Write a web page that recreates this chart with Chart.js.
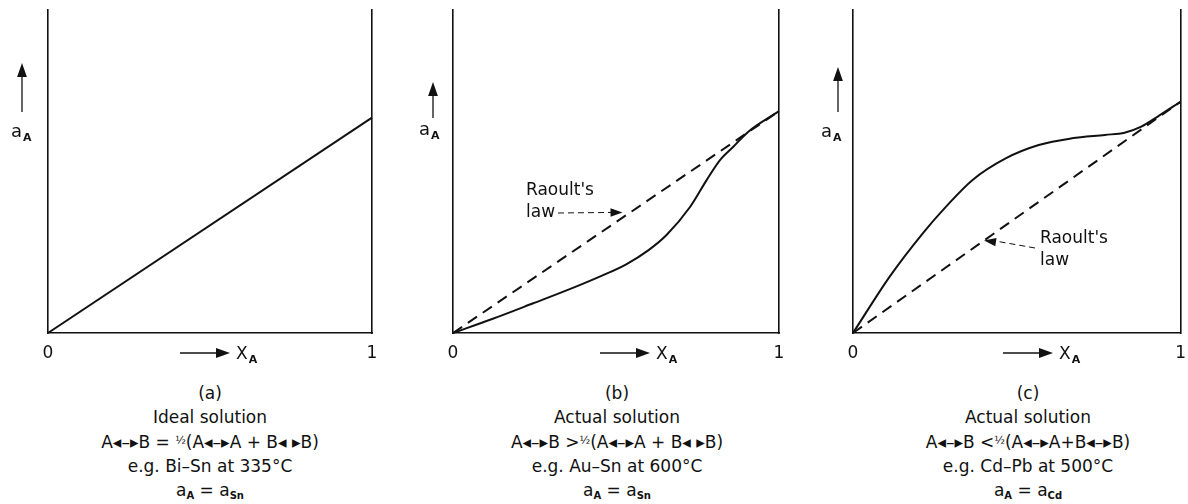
<!DOCTYPE html>
<html lang="en">
<head>
<meta charset="UTF-8">
<title>Activity vs mole fraction</title>
<script src="https://cdn.jsdelivr.net/npm/chart.js"></script>
<style>
    body {
        margin: 0;
        background: #fff;
        font-family: "DejaVu Sans", sans-serif;
        color: #111;
    }
    .wrap {
        position: relative;
        width: 1188px;
        height: 504px;
        overflow: hidden;
    }
    .panel {
        position: absolute;
        top: 0;
        width: 396px;
        height: 372px;
    }
    .caption {
        position: absolute;
        top: 381px;
        width: 396px;
        text-align: center;
        font-size: 17px;
        line-height: 24px;
    }
    sub { font-size: 10px; vertical-align: -3px; font-weight: bold; }
    .half { font-size: 11px; vertical-align: 4px; }
</style>
</head>
<body>
<div class="wrap">
    <div class="panel" style="left:0"><canvas id="chartA"></canvas></div>
    <div class="panel" style="left:400px"><canvas id="chartB"></canvas></div>
    <div class="panel" style="left:792px"><canvas id="chartC"></canvas></div>

    <div class="caption" style="left:12px">
        (a)<br>Ideal solution<br>
        A◂–▸B = <span class="half">½</span>(A◂–▸A + B◂ ▸B)<br>
        e.g. Bi–Sn at 335°C<br>
        a<sub>A</sub> = a<sub>Sn</sub>
    </div>
    <div class="caption" style="left:419px">
        (b)<br>Actual solution<br>
        A◂–▸B &gt;<span class="half">½</span>(A◂–▸A + B◂ ▸B)<br>
        e.g. Au–Sn at 600°C<br>
        a<sub>A</sub> = a<sub>Sn</sub>
    </div>
    <div class="caption" style="left:830px">
        (c)<br>Actual solution<br>
        A◂–▸B &lt;<span class="half">½</span>(A◂–▸A+B◂–▸B)<br>
        e.g. Cd–Pb at 500°C<br>
        a<sub>A</sub> = a<sub>Cd</sub>
    </div>
</div>

<script>
    // mole fraction / activity values
    const xIdeal = [0, 1];
    const aIdeal = [0, 1.0];

    const xB = [0, 0.12, 0.246, 0.36, 0.45, 0.53, 0.6, 0.655, 0.727, 0.778, 0.819, 0.86, 0.906, 1];
    const aB = [0, 0.065, 0.138, 0.205, 0.262, 0.318, 0.385, 0.455, 0.585, 0.71, 0.803, 0.865, 0.935, 1.03];
    const xRaoultB = [0, 1];
    const aRaoultB = [0, 1.03];

    const xC = [0, 0.112, 0.213, 0.284, 0.365, 0.466, 0.567, 0.668, 0.769, 0.829, 0.88, 0.93, 1];
    const aC = [0, 0.262, 0.463, 0.587, 0.711, 0.811, 0.873, 0.904, 0.92, 0.93, 0.958, 1.005, 1.074];
    const xRaoultC = [0, 1];
    const aRaoultC = [0, 1.074];

    const xTicks = [0, 1];
    const INK = '#111';
    const FONT = '"DejaVu Sans", sans-serif';

    function pts(xs, ys) {
        return xs.map((x, i) => ({ x: x, y: ys[i] }));
    }

    function drawArrowHead(ctx, x, y, dx, dy, size) {
        const len = Math.hypot(dx, dy);
        const ux = dx / len, uy = dy / len;
        ctx.beginPath();
        ctx.moveTo(x, y);
        ctx.lineTo(x - ux * size - uy * size * 0.35, y - uy * size + ux * size * 0.35);
        ctx.lineTo(x - ux * size + uy * size * 0.35, y - uy * size - ux * size * 0.35);
        ctx.closePath();
        ctx.fill();
    }

    // text with a subscript, e.g. a_A
    function subText(ctx, main, sub, x, y, size) {
        ctx.font = size + 'px ' + FONT;
        ctx.fillText(main, x, y);
        const w = ctx.measureText(main).width;
        ctx.font = 'bold ' + Math.round(size * 0.62) + 'px ' + FONT;
        ctx.fillText(sub, x + w + 1, y + 4);
    }

    // axis labels with arrows and the Raoult's law note
    const figureLabels = {
        id: 'figureLabels',
        afterDraw(chart, args, o) {
            const ctx = chart.ctx;
            ctx.save();
            ctx.fillStyle = INK;
            ctx.strokeStyle = INK;
            ctx.lineWidth = 1.3;
            ctx.textBaseline = 'alphabetic';

            // y label
            ctx.beginPath();
            ctx.moveTo(o.yArrow.x, o.yArrow.y1);
            ctx.lineTo(o.yArrow.x, o.yArrow.y0 + 8);
            ctx.stroke();
            drawArrowHead(ctx, o.yArrow.x, o.yArrow.y0, 0, -1, 14);
            subText(ctx, 'a', 'A', o.yText.x, o.yText.y, 18);

            // x label
            ctx.beginPath();
            ctx.moveTo(o.xArrow.x0, o.xArrow.y);
            ctx.lineTo(o.xArrow.x1 - 8, o.xArrow.y);
            ctx.stroke();
            drawArrowHead(ctx, o.xArrow.x1, o.xArrow.y, 1, 0, 14);
            subText(ctx, 'X', 'A', o.xArrow.x1 + 6, o.xArrow.y + 6, 17);

            if (o.note) {
                const n = o.note;
                ctx.font = '17px ' + FONT;
                ctx.fillText("Raoult's", n.x, n.y);
                ctx.fillText('law', n.x, n.y + 22);
                const xs = chart.scales.x, ys = chart.scales.y;
                const tx = xs.getPixelForValue(n.to[0]);
                const ty = ys.getPixelForValue(n.to[1]);
                ctx.setLineDash([6, 4]);
                ctx.lineWidth = 1;
                ctx.beginPath();
                ctx.moveTo(n.from[0], n.from[1]);
                ctx.lineTo(tx - Math.sign(tx - n.from[0]) * 8, ty);
                ctx.stroke();
                ctx.setLineDash([]);
                drawArrowHead(ctx, tx, ty, tx - n.from[0], ty - n.from[1], 12);
            }
            ctx.restore();
        }
    };

    function makeChart(id, pad, datasets, labelOpts) {
        const axisY = (pos) => ({
            type: 'linear',
            position: pos,
            min: 0,
            max: 1.5,
            display: true,
            grid: { display: false },
            ticks: { display: false },
            border: { display: true, color: INK, width: 1.6 },
            afterFit: (s) => { s.width = 0; }
        });
        return new Chart(document.getElementById(id), {
            type: 'line',
            data: { datasets: datasets },
            options: {
                responsive: true,
                maintainAspectRatio: false,
                animation: false,
                layout: { padding: { left: pad.left, right: pad.right, top: 10, bottom: 0 } },
                plugins: {
                    legend: { display: false },
                    tooltip: { enabled: false },
                    figureLabels: labelOpts
                },
                elements: { point: { radius: 0 } },
                scales: {
                    x: {
                        type: 'linear',
                        min: 0,
                        max: 1,
                        grid: { display: false },
                        border: { display: true, color: INK, width: 1.6 },
                        afterBuildTicks: (s) => { s.ticks = xTicks.map(v => ({ value: v })); },
                        afterFit: (s) => { s.height = 39; },
                        ticks: {
                            color: INK,
                            padding: 2,
                            maxRotation: 0,
                            font: { family: FONT, size: 17 },
                            callback: (v) => String(v)
                        }
                    },
                    y: axisY('left'),
                    y2: axisY('right')
                }
            },
            plugins: [figureLabels]
        });
    }

    const solid = (data) => ({
        data: data,
        borderColor: INK,
        borderWidth: 2,
        cubicInterpolationMode: 'monotone',
        fill: false,
        clip: false
    });
    const dashed = (data) => ({
        data: data,
        borderColor: INK,
        borderWidth: 2,
        borderDash: [11, 7],
        fill: false,
        clip: false
    });

    makeChart('chartA', { left: 48, right: 24 },
        [solid(pts(xIdeal, aIdeal))],
        {
            yArrow: { x: 22, y0: 63, y1: 112 },
            yText: { x: 11, y: 137 },
            xArrow: { x0: 180, x1: 230, y: 353 }
        });

    makeChart('chartB', { left: 53, right: 17 },
        [dashed(pts(xRaoultB, aRaoultB)), solid(pts(xB, aB))],
        {
            yArrow: { x: 33, y0: 82, y1: 118 },
            yText: { x: 19, y: 135 },
            xArrow: { x0: 200, x1: 250, y: 353 },
            note: { x: 126, y: 195, from: [158, 213], to: [0.52, 0.56] }
        });

    makeChart('chartC', { left: 61, right: 5 },
        [dashed(pts(xRaoultC, aRaoultC)), solid(pts(xC, aC))],
        {
            yArrow: { x: 46, y0: 67, y1: 112 },
            yText: { x: 29, y: 137 },
            xArrow: { x0: 211, x1: 261, y: 353 },
            note: { x: 248, y: 243, from: [243, 248], to: [0.4, 0.43] }
        });
</script>
</body>
</html>
